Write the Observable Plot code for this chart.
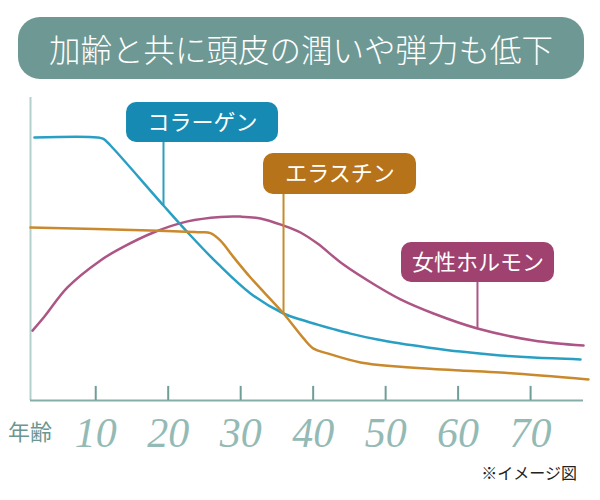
<!DOCTYPE html>
<html>
<head>
<meta charset="utf-8">
<script src="https://cdn.jsdelivr.net/npm/d3@7"></script>
<script src="https://cdn.jsdelivr.net/npm/@observablehq/plot@0.6"></script>
<style>
  html, body { margin: 0; padding: 0; background: #fff; }
  #wrap { position: relative; width: 600px; height: 500px; overflow: hidden; font-family: "Noto Sans CJK JP", "Noto Sans", sans-serif; }
  #title { position: absolute; left: 18px; top: 17px; width: 566px; height: 62px; border-radius: 22px;
           background: #6e9893; color: #fff; font-size: 31.5px; font-weight: 300; line-height: 62px; text-align: center; white-space: nowrap; }
  #chart { position: absolute; left: 0; top: 90px; }
  #xname { position: absolute; left: 8px; top: 419px; font-size: 22px; line-height: 22px; color: #6a9792; }
  #note { position: absolute; right: 23px; top: 464px; font-size: 16px; line-height: 16px; color: #222; white-space: nowrap; }
</style>
</head>
<body>
<div id="wrap">
  <div id="title">加齢と共に頭皮の潤いや弾力も低下</div>
  <div id="chart"></div>
  <div id="xname">年齢</div>
  <div id="note">※イメージ図</div>
</div>
<script>
// ---- data (age in years, relative level) ----
const xTicks = [10, 20, 30, 40, 50, 60, 70];

const collagenAge   = [1.55, 10.24, 11.07, 12.04, 19.35, 23.08, 26.80, 31.35, 35.91, 38.25, 40.60, 42.80, 45.15, 48.88, 52.05, 55.77, 60.33, 65.85, 70.40, 76.88];
const collagenLevel = [87.7, 87.7, 87.2, 85.0, 65.0, 55.0, 45.7, 35.7, 29.0, 27.0, 25.3, 23.8, 22.3, 20.3, 19.0, 17.7, 16.3, 15.0, 14.3, 13.7];

const elastinAge   = [1.0, 17.56, 24.45, 25.83, 27.21, 29.01, 31.35, 35.91, 38.67, 40.05, 41.98, 46.53, 53.43, 60.33, 65.85, 77.99];
const elastinLevel = [57.7, 56.7, 56.1, 55.8, 53.3, 47.8, 41.0, 29.0, 20.7, 17.3, 15.7, 12.7, 11.0, 10.0, 9.3, 7.0];

const hormoneAge   = [1.28, 2.93, 6.10, 10.66, 13.42, 17.97, 22.66, 27.21, 29.97, 32.73, 35.91, 38.25, 40.60, 44.18, 48.88, 52.05, 56.60, 62.67, 70.40, 77.30];
const hormoneLevel = [23.3, 28.0, 37.7, 46.7, 50.7, 56.0, 59.7, 61.2, 61.3, 60.7, 58.3, 56.0, 52.3, 45.3, 38.0, 33.7, 29.0, 24.0, 20.0, 18.3];

// ---- label annotations ----
const labelNames     = ["コラーゲン", "エラスチン", "女性ホルモン"];
const leaderAge      = [19.35, 35.91, 62.67];
const leaderLevel    = [65.0, 29.0, 24.0];
const boxAgeLeft     = [14.25, 33.15, 52.19];
const boxAgeRight    = [35.22, 54.26, 73.30];
const boxLevelTop    = [99.33, 82.33, 52.67];
const boxLevelBottom = [86.0, 68.67, 39.33];

// ---- styles ----
const lineColors = ["#2a9fc4", "#c9892c", "#ad5585"];
const boxColors  = ["#168ab2", "#b6731a", "#9f426f"];

const toRows = (ages, levels) => ages.map((a, i) => ({age: a, level: levels[i]}));
const series = [toRows(collagenAge, collagenLevel), toRows(elastinAge, elastinLevel), toRows(hormoneAge, hormoneLevel)];

const labels = labelNames.map((name, i) => ({
  name, leaderAge: leaderAge[i], leaderLevel: leaderLevel[i],
  x1: boxAgeLeft[i], x2: boxAgeRight[i], y1: boxLevelBottom[i], y2: boxLevelTop[i],
  line: lineColors[i], box: boxColors[i]
}));

const chart = Plot.plot({
  width: 600,
  height: 370,
  marginTop: 7,
  marginBottom: 60,
  marginLeft: 30,
  marginRight: 17,
  x: {domain: [1, 77.3], axis: null},
  y: {domain: [0, 101], axis: null},
  style: {background: "transparent", overflow: "visible"},
  marks: [
    Plot.ruleX([1], {stroke: "#b3cfcc", strokeWidth: 2}),
    Plot.ruleY([0], {stroke: "#86aea9", strokeWidth: 2}),
    Plot.ruleX(xTicks, {y1: 0, y2: 4.7, stroke: "#6f9e98", strokeWidth: 2}),
    Plot.axisX(xTicks, {
      tickSize: 0, tickPadding: 17, fontSize: 42, fontFamily: "Liberation Serif",
      fontStyle: "italic", fill: "#94bab5", color: "#94bab5", tickFormat: d => String(d), label: null
    }),
    Plot.line(series[2], {x: "age", y: "level", stroke: lineColors[2], strokeWidth: 2.5, curve: "catmull-rom"}),
    Plot.line(series[0], {x: "age", y: "level", stroke: lineColors[0], strokeWidth: 2.5, curve: "catmull-rom"}),
    Plot.line(series[1], {x: "age", y: "level", stroke: lineColors[1], strokeWidth: 2.5, curve: "catmull-rom"}),
    Plot.ruleX(labels, {x: "leaderAge", y1: "leaderLevel", y2: "y1", stroke: "line", strokeWidth: 2}),
    Plot.rect(labels, {x1: "x1", x2: "x2", y1: "y1", y2: "y2", fill: "box", rx: 10}),
    Plot.text(labels, {
      x: d => (d.x1 + d.x2) / 2, y: d => (d.y1 + d.y2) / 2, text: "name",
      fill: "white", fontSize: 22, fontFamily: "Noto Sans CJK JP"
    })
  ]
});
document.getElementById("chart").appendChild(chart);
</script>
</body>
</html>
